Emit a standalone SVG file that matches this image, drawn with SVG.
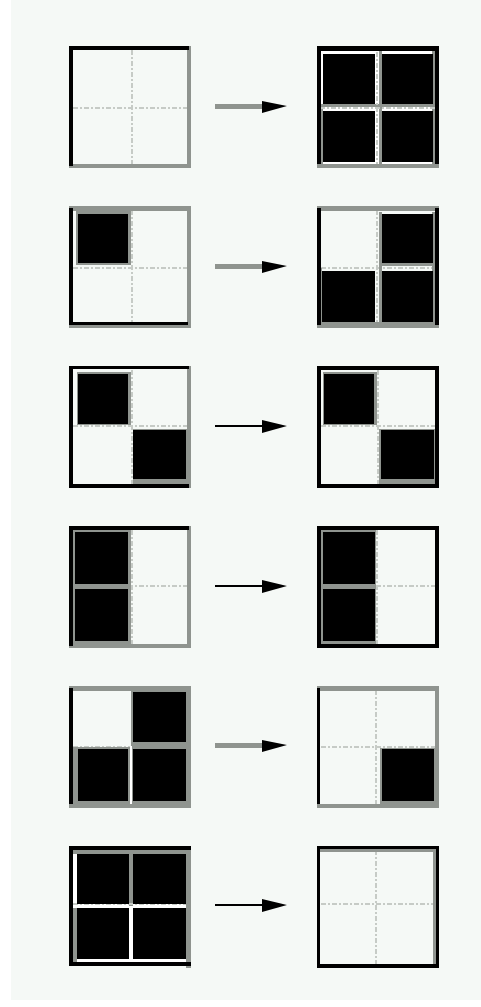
<svg xmlns="http://www.w3.org/2000/svg" width="481" height="1007" viewBox="0 0 481 1007">
<defs>
<style>
.bg{fill:#f5f9f6}
.k{fill:#000}
.g{fill:#8f948f}
.w{fill:#ffffff}
.in{fill:#f5f9f6}
.div{stroke:#c6cbc6;stroke-width:2;stroke-dasharray:5 2 2 2;fill:none}
.cell{fill:#000}
.shaftg{fill:#8f948f}
.shaftk{fill:#000}
.head{fill:#000}
</style>
</defs>
<rect x="0" y="0" width="481" height="1007" fill="#ffffff"/>
<rect class="bg" x="11" y="0" width="470" height="1000"/>

<!-- Row 1 -->
<g id="r1-left">
<rect class="in" x="69" y="46" width="122" height="122"/>
<line class="div" x1="132" y1="50" x2="132" y2="164"/>
<line class="div" x1="73" y1="108" x2="187" y2="108"/>
<rect class="g" x="69" y="164" width="122" height="4"/>
<rect class="g" x="187" y="46" width="4" height="122"/>
<rect class="k" x="69" y="46" width="120" height="4"/>
<rect class="k" x="69" y="46" width="4" height="120"/>
</g>
<g id="r1-right">
<rect class="in" x="317" y="46" width="122" height="122"/>
<rect class="w" x="320" y="51" width="116" height="113"/>
<rect class="g" x="320" y="104" width="116" height="3"/>
<rect class="g" x="320" y="104" width="3" height="60"/>
<rect class="g" x="379" y="51" width="3" height="113"/>
<rect class="g" x="432" y="51" width="3" height="113"/>
<line class="div" x1="377" y1="52" x2="377" y2="164"/>
<line class="div" x1="320" y1="108" x2="436" y2="108"/>
<rect class="cell" x="323" y="54" width="52" height="50"/>
<rect class="cell" x="382" y="54" width="51" height="50"/>
<rect class="cell" x="323" y="111" width="52" height="51"/>
<rect class="cell" x="382" y="111" width="51" height="51"/>
<rect class="g" x="317" y="164" width="122" height="4"/>
<rect class="k" x="317" y="46" width="122" height="5"/>
<rect class="k" x="317" y="46" width="4" height="118"/>
<rect class="k" x="435" y="46" width="4" height="118"/>
</g>

<!-- Row 2 -->
<g id="r2-left">
<rect class="in" x="69" y="206" width="122" height="122"/>
<line class="div" x1="132" y1="210" x2="132" y2="324"/>
<line class="div" x1="73" y1="268" x2="187" y2="268"/>
<rect class="g" x="76" y="210" width="55" height="55"/>
<rect class="cell" x="78" y="214" width="50" height="49"/>
<rect class="g" x="69" y="206" width="122" height="5"/>
<rect class="g" x="187" y="206" width="4" height="122"/>
<rect class="g" x="69" y="325" width="122" height="3"/>
<rect class="k" x="69" y="322" width="119" height="3"/>
<rect class="k" x="69" y="208" width="4" height="117"/>
</g>
<g id="r2-right">
<rect class="in" x="317" y="206" width="122" height="122"/>
<line class="div" x1="377" y1="210" x2="377" y2="324"/>
<line class="div" x1="321" y1="268" x2="435" y2="268"/>
<rect class="g" x="379" y="212" width="3" height="113"/>
<rect class="g" x="380" y="263" width="56" height="3"/>
<rect class="g" x="319" y="268" width="3" height="57"/>
<rect class="g" x="432" y="212" width="3" height="113"/>
<rect class="cell" x="382" y="214" width="51" height="49"/>
<rect class="cell" x="382" y="271" width="51" height="51"/>
<rect class="cell" x="322" y="271" width="53" height="51"/>
<rect class="g" x="317" y="206" width="122" height="5"/>
<rect class="g" x="317" y="322" width="122" height="6"/>
<rect class="k" x="317" y="208" width="4" height="117"/>
<rect class="k" x="435" y="208" width="4" height="117"/>
</g>

<!-- Row 3 -->
<g id="r3-left">
<rect class="in" x="69" y="366" width="122" height="122"/>
<line class="div" x1="132" y1="370" x2="132" y2="484"/>
<line class="div" x1="73" y1="426" x2="187" y2="426"/>
<rect class="g" x="77" y="372" width="54" height="53"/>
<rect class="cell" x="78" y="374" width="50" height="50"/>
<rect class="g" x="133" y="429" width="55" height="55"/>
<rect class="cell" x="133" y="430" width="53" height="49"/>
<rect class="g" x="187" y="366" width="4" height="122"/>
<rect class="k" x="69" y="366" width="120" height="3"/>
<rect class="k" x="69" y="484" width="120" height="4"/>
<rect class="k" x="69" y="366" width="4" height="122"/>
</g>
<g id="r3-right">
<rect class="in" x="317" y="366" width="122" height="122"/>
<line class="div" x1="378" y1="370" x2="378" y2="484"/>
<line class="div" x1="321" y1="426" x2="435" y2="426"/>
<rect class="g" x="323" y="372" width="54" height="53"/>
<rect class="cell" x="324" y="374" width="50" height="50"/>
<rect class="g" x="379" y="429" width="56" height="55"/>
<rect class="cell" x="381" y="430" width="53" height="49"/>
<rect class="k" x="317" y="366" width="122" height="4"/>
<rect class="k" x="317" y="484" width="122" height="4"/>
<rect class="k" x="317" y="366" width="4" height="122"/>
<rect class="k" x="435" y="366" width="4" height="122"/>
</g>

<!-- Row 4 -->
<g id="r4-left">
<rect class="in" x="69" y="526" width="122" height="122"/>
<line class="div" x1="132" y1="530" x2="132" y2="644"/>
<line class="div" x1="73" y1="586" x2="187" y2="586"/>
<rect class="g" x="73" y="530" width="58" height="114"/>
<rect class="cell" x="75" y="532" width="53" height="52"/>
<rect class="cell" x="75" y="589" width="53" height="52"/>
<rect class="g" x="187" y="526" width="4" height="122"/>
<rect class="g" x="69" y="644" width="122" height="4"/>
<rect class="k" x="69" y="526" width="120" height="4"/>
<rect class="k" x="69" y="526" width="4" height="120"/>
</g>
<g id="r4-right">
<rect class="in" x="317" y="526" width="122" height="122"/>
<line class="div" x1="377" y1="530" x2="377" y2="644"/>
<line class="div" x1="321" y1="586" x2="435" y2="586"/>
<rect class="g" x="321" y="530" width="55" height="114"/>
<rect class="cell" x="323" y="532" width="52" height="52"/>
<rect class="cell" x="323" y="589" width="52" height="52"/>
<rect class="k" x="317" y="526" width="122" height="4"/>
<rect class="k" x="317" y="644" width="122" height="4"/>
<rect class="k" x="317" y="526" width="4" height="122"/>
<rect class="k" x="435" y="526" width="4" height="122"/>
</g>

<!-- Row 5 -->
<g id="r5-left">
<rect class="in" x="69" y="686" width="122" height="122"/>
<line class="div" x1="132" y1="690" x2="132" y2="804"/>
<line class="div" x1="73" y1="747" x2="187" y2="747"/>
<rect class="g" x="131" y="690" width="56" height="115"/>
<rect class="g" x="73" y="747" width="60" height="58"/>
<rect class="cell" x="133" y="692" width="53" height="50"/>
<rect class="cell" x="133" y="749" width="53" height="52"/>
<rect class="cell" x="78" y="749" width="50" height="52"/>
<line x1="131" y1="746" x2="131" y2="806" stroke="#ffffff" stroke-width="2"/>
<rect class="g" x="69" y="686" width="122" height="5"/>
<rect class="g" x="69" y="804" width="122" height="4"/>
<rect class="g" x="187" y="686" width="4" height="122"/>
<rect class="k" x="69" y="688" width="4" height="116"/>
</g>
<g id="r5-right">
<rect class="in" x="317" y="686" width="122" height="122"/>
<line class="div" x1="376" y1="690" x2="376" y2="804"/>
<line class="div" x1="321" y1="747" x2="435" y2="747"/>
<rect class="g" x="380" y="748" width="56" height="57"/>
<rect class="cell" x="382" y="749" width="52" height="52"/>
<rect class="g" x="317" y="686" width="122" height="5"/>
<rect class="g" x="317" y="804" width="122" height="4"/>
<rect class="g" x="435" y="686" width="4" height="122"/>
<rect class="k" x="317" y="688" width="3" height="116"/>
</g>

<!-- Row 6 -->
<g id="r6-left">
<rect class="in" x="69" y="846" width="122" height="122"/>
<rect class="w" x="73" y="850" width="114" height="115"/>
<rect class="g" x="73" y="850" width="114" height="4"/>
<rect class="g" x="129" y="850" width="4" height="56"/>
<rect class="g" x="73" y="908" width="4" height="56"/>
<line class="div" x1="73" y1="904" x2="187" y2="904"/>
<rect class="cell" x="77" y="854" width="52" height="50"/>
<rect class="cell" x="133" y="854" width="53" height="50"/>
<rect class="cell" x="77" y="908" width="52" height="51"/>
<rect class="cell" x="133" y="908" width="53" height="51"/>
<rect class="g" x="186" y="846" width="5" height="122"/>
<rect class="k" x="69" y="846" width="122" height="4"/>
<rect class="k" x="69" y="962" width="122" height="4"/>
<rect class="k" x="69" y="846" width="4" height="120"/>
</g>
<g id="r6-right">
<rect class="in" x="317" y="846" width="122" height="122"/>
<line class="div" x1="376" y1="850" x2="376" y2="964"/>
<line class="div" x1="321" y1="904" x2="435" y2="904"/>
<rect class="g" x="320" y="849" width="116" height="3"/>
<rect class="g" x="433" y="849" width="3" height="116"/>
<rect class="k" x="317" y="846" width="122" height="3"/>
<rect class="k" x="317" y="964" width="122" height="4"/>
<rect class="k" x="317" y="846" width="3" height="122"/>
<rect class="k" x="436" y="846" width="3" height="122"/>
</g>

<!-- Connectors -->
<g id="connectors">
<rect class="shaftg" x="215" y="104" width="50" height="5"/>
<polygon class="head" points="262,101 287,106 262,113"/>
<rect class="shaftg" x="215" y="264" width="50" height="5"/>
<polygon class="head" points="262,261 287,266 262,273"/>
<rect class="shaftk" x="215" y="425" width="50" height="2"/>
<polygon class="head" points="262,420 287,426 262,433"/>
<rect class="shaftk" x="215" y="585" width="50" height="2"/>
<polygon class="head" points="262,580 287,586 262,593"/>
<rect class="shaftg" x="215" y="743" width="50" height="5"/>
<polygon class="head" points="262,740 287,745 262,752"/>
<rect class="shaftk" x="215" y="904" width="50" height="2"/>
<polygon class="head" points="262,899 287,905 262,912"/>
</g>
</svg>
